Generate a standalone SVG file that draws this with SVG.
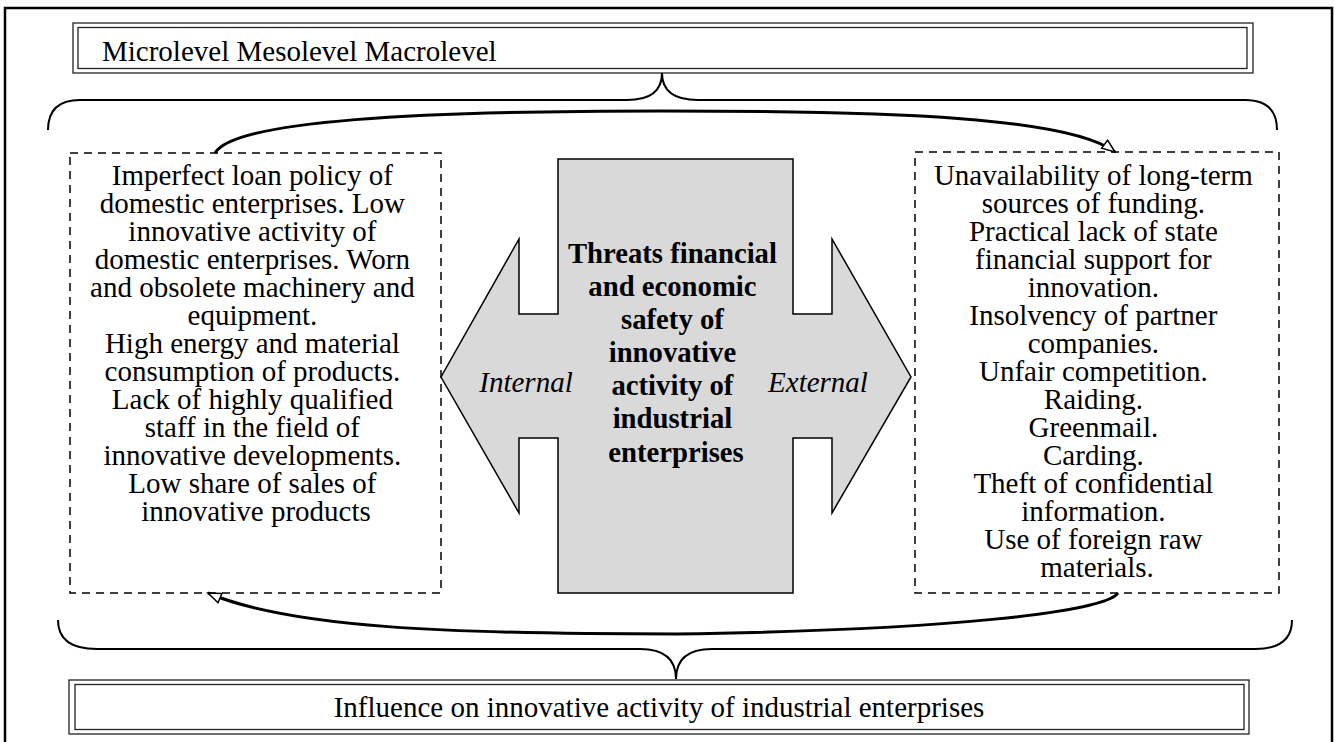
<svg xmlns="http://www.w3.org/2000/svg" width="1335" height="742" viewBox="0 0 1335 742">
<style>
text{font-family:"Liberation Serif","Times New Roman",serif;font-size:29px;fill:#000}
.c{text-anchor:middle}
.b{font-weight:bold;font-size:28.7px}
.i{font-style:italic}
.dbl{fill:none;stroke:#222;stroke-width:1.3}
.dash{fill:#fff;stroke:#000;stroke-width:1.5;stroke-dasharray:8 6}
.brace{fill:none;stroke:#000;stroke-width:2}
.flow{fill:none;stroke:#000;stroke-width:3}
</style>
<defs>
<marker id="hollow" markerUnits="userSpaceOnUse" markerWidth="16" markerHeight="14" refX="14" refY="6" orient="auto" viewBox="0 0 16 14">
<path d="M1,1 L14,6 L1,11 Z" fill="#fff" stroke="#000" stroke-width="1.5"/>
</marker>
</defs>
<rect width="1335" height="742" fill="#fff"/>
<rect id="frame" x="5" y="8" width="1327" height="760" fill="none" stroke="#000" stroke-width="2.5"/>

<g id="top-box">
<rect class="dbl" x="73" y="23" width="1180" height="50"/>
<rect class="dbl" x="78" y="27.5" width="1169" height="41"/>
<text x="102" y="61">Microlevel Mesolevel Macrolevel</text>
</g>

<g id="bottom-box">
<rect class="dbl" x="69" y="680" width="1180" height="54"/>
<rect class="dbl" x="75" y="684.5" width="1169" height="45"/>
<text class="c" x="659" y="717">Influence on innovative activity of industrial enterprises</text>
</g>

<g id="left-box">
<rect class="dash" x="70" y="153" width="371" height="440"/>
<text class="c" x="256">
<tspan x="256" y="185">Imperfect loan policy of</tspan>
<tspan x="256" y="213">domestic enterprises. Low</tspan>
<tspan x="256" y="241">innovative activity of</tspan>
<tspan x="256" y="269">domestic enterprises. Worn</tspan>
<tspan x="256" y="297">and obsolete machinery and</tspan>
<tspan x="256" y="325">equipment.</tspan>
<tspan x="256" y="353">High energy and material</tspan>
<tspan x="256" y="381">consumption of products.</tspan>
<tspan x="256" y="409">Lack of highly qualified</tspan>
<tspan x="256" y="437">staff in the field of</tspan>
<tspan x="256" y="465">innovative developments.</tspan>
<tspan x="256" y="493">Low share of sales of</tspan>
<tspan x="256" y="521">innovative products</tspan>
</text>
</g>

<g id="right-box">
<rect class="dash" x="915" y="152" width="364" height="441"/>
<text class="c" x="1097">
<tspan x="1097" y="185">Unavailability of long-term</tspan>
<tspan x="1097" y="213">sources of funding.</tspan>
<tspan x="1097" y="241">Practical lack of state</tspan>
<tspan x="1097" y="269">financial support for</tspan>
<tspan x="1097" y="297">innovation.</tspan>
<tspan x="1097" y="325">Insolvency of partner</tspan>
<tspan x="1097" y="353">companies.</tspan>
<tspan x="1097" y="381">Unfair competition.</tspan>
<tspan x="1097" y="409">Raiding.</tspan>
<tspan x="1097" y="437">Greenmail.</tspan>
<tspan x="1097" y="465">Carding.</tspan>
<tspan x="1097" y="493">Theft of confidential</tspan>
<tspan x="1097" y="521">information.</tspan>
<tspan x="1097" y="549">Use of foreign raw</tspan>
<tspan x="1097" y="577">materials.</tspan>
</text>
</g>

<g id="center">
<path d="M558,159 H793 V314 H832 V239 L911,377 L832,513 V438 H793 V593 H558 V438 H519 V513 L441,377 L519,239 V314 H558 Z" fill="#d9d9d9" stroke="#000" stroke-width="1.5"/>
<text class="c b">
<tspan x="676" y="263">Threats financial</tspan>
<tspan x="676" y="296">and economic</tspan>
<tspan x="676" y="329">safety of</tspan>
<tspan x="676" y="362">innovative</tspan>
<tspan x="676" y="395">activity of</tspan>
<tspan x="676" y="428">industrial</tspan>
<tspan x="676" y="462">enterprises</tspan>
</text>
<text class="c i" x="526" y="392">Internal</text>
<text class="c i" x="818" y="392">External</text>
</g>

<g id="connectors">
<path class="brace" d="M48,130 Q48,100 80,100 H627 Q662,100 662,73 Q662,100 698,100 H1245 Q1277,100 1277,130"/>
<path class="brace" d="M58,620 Q58,649 97,649 H640 Q676,649 676,679 Q676,649 712,649 H1255 Q1292,649 1292,620"/>
<path class="flow" d="M215,153 C235,120 420,111 663,111 C900,111 1070,118 1115,152" marker-end="url(#hollow)"/>
<path class="flow" d="M1118,593 C1105,612 950,630 676,634 C450,634 290,628 208,593" marker-end="url(#hollow)"/>
</g>
</svg>
